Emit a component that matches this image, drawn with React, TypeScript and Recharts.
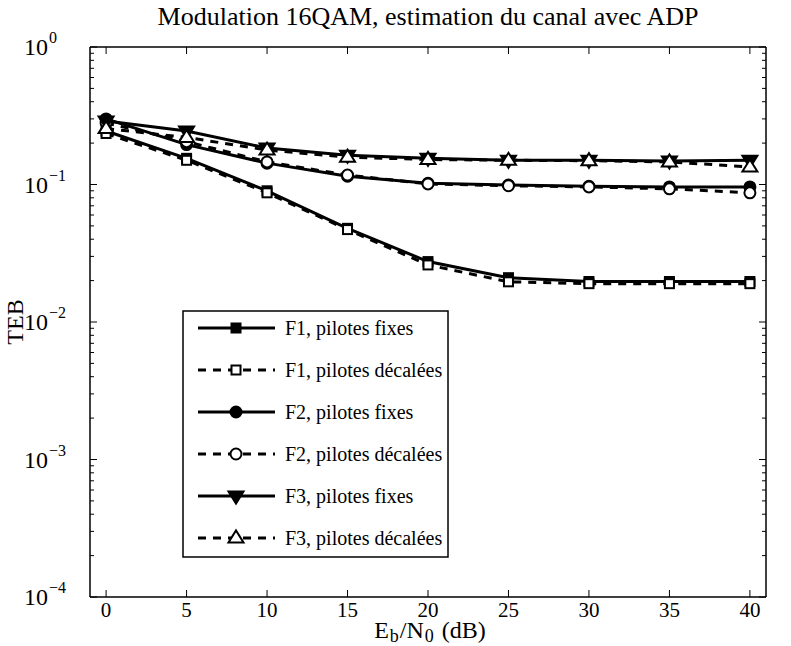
import React from "react";
import { LineChart, Line, XAxis, YAxis } from "recharts";

const snr = [0, 5, 10, 15, 20, 25, 30, 35, 40];
const f1Fixes = [0.245, 0.155, 0.09, 0.048, 0.0275, 0.021, 0.0197, 0.0197, 0.0197];
const f1Decalees = [0.235, 0.15, 0.087, 0.047, 0.026, 0.0196, 0.019, 0.019, 0.019];
const f2Fixes = [0.3, 0.195, 0.143, 0.115, 0.102, 0.099, 0.097, 0.096, 0.096];
const f2Decalees = [0.28, 0.205, 0.146, 0.117, 0.101, 0.098, 0.096, 0.093, 0.087];
const f3Fixes = [0.29, 0.245, 0.184, 0.163, 0.155, 0.15, 0.15, 0.148, 0.15];
const f3Decalees = [0.255, 0.22, 0.178, 0.158, 0.152, 0.15, 0.149, 0.146, 0.134];

const xTicks = [0, 5, 10, 15, 20, 25, 30, 35, 40];
const yMajor = [1e-4, 1e-3, 1e-2, 1e-1, 1];
const yExp = ["−4", "−3", "−2", "−1", "0"];
const seriesNames = [
  "F1, pilotes fixes",
  "F1, pilotes décalées",
  "F2, pilotes fixes",
  "F2, pilotes décalées",
  "F3, pilotes fixes",
  "F3, pilotes décalées",
];

const yMinor: number[] = [];
for (let d = -4; d < 0; d++) {
  for (let m = 2; m <= 9; m++) yMinor.push(m * Math.pow(10, d));
}
const yAllTicks = [...yMajor, ...yMinor].sort((a, b) => a - b);

const data = snr.map((x, i) => ({
  x,
  a: f1Fixes[i],
  b: f1Decalees[i],
  c: f2Fixes[i],
  d: f2Decalees[i],
  e: f3Fixes[i],
  f: f3Decalees[i],
}));

const FONT = "'Liberation Serif', 'DejaVu Serif', serif";
const W = 791;
const H = 646;
const M = { top: 46, right: 24, bottom: 48, left: 89 };

const isMajor = (v: number) => yMajor.some((m) => Math.abs(m - v) / m < 1e-6);

const SquareDot = (props: any) => {
  const { cx, cy, fill } = props;
  if (cx == null || cy == null) return null;
  return <rect x={cx - 4.5} y={cy - 4.5} width={9} height={9} fill={fill} stroke="#000" strokeWidth={2} />;
};
const CircleDot = (props: any) => {
  const { cx, cy, fill } = props;
  if (cx == null || cy == null) return null;
  return <circle cx={cx} cy={cy} r={5.5} fill={fill} stroke="#000" strokeWidth={2} />;
};
const TriDownDot = (props: any) => {
  const { cx, cy, fill } = props;
  if (cx == null || cy == null) return null;
  const s = 7.5;
  return (
    <polygon
      points={`${cx - s},${cy - s * 0.6} ${cx + s},${cy - s * 0.6} ${cx},${cy + s}`}
      fill={fill}
      stroke="#000"
      strokeWidth={2}
    />
  );
};
const TriUpDot = (props: any) => {
  const { cx, cy, fill } = props;
  if (cx == null || cy == null) return null;
  const s = 7.5;
  return (
    <polygon
      points={`${cx - s},${cy + s * 0.6} ${cx + s},${cy + s * 0.6} ${cx},${cy - s}`}
      fill={fill}
      stroke="#000"
      strokeWidth={2}
    />
  );
};

const BottomTick = (props: any) => {
  const { x, y, payload } = props;
  return (
    <g>
      <line x1={x} y1={y} x2={x} y2={y - 7} stroke="#000" strokeWidth={1} />
      <text x={x} y={y + 20} textAnchor="middle" fontFamily={FONT} fontSize={21} fill="#000">
        {payload.value}
      </text>
    </g>
  );
};
const TopTick = (props: any) => {
  const { x, y } = props;
  return <line x1={x} y1={y} x2={x} y2={y + 7} stroke="#000" strokeWidth={1} />;
};
const LeftTick = (props: any) => {
  const { x, y, payload } = props;
  const major = isMajor(payload.value);
  const idx = yMajor.findIndex((m) => Math.abs(m - payload.value) / m < 1e-6);
  return (
    <g>
      <line x1={x} y1={y} x2={x + (major ? 7 : 4)} y2={y} stroke="#000" strokeWidth={1} />
      {major && (
        <text x={x - 42} y={y + 8} textAnchor="end" fontFamily={FONT} fontSize={24} fill="#000">
          10
        </text>
      )}
      {major && (
        <text x={x - 41} y={y - 4} textAnchor="start" fontFamily={FONT} fontSize={16} fill="#000">
          {yExp[idx]}
        </text>
      )}
    </g>
  );
};
const RightTick = (props: any) => {
  const { x, y, payload } = props;
  const major = isMajor(payload.value);
  return <line x1={x} y1={y} x2={x - (major ? 7 : 4)} y2={y} stroke="#000" strokeWidth={1} />;
};

const keys = ["a", "b", "c", "d", "e", "f"];
const dashes = ["", "8 7", "", "8 7", "", "8 7"];
const dots = [SquareDot, SquareDot, CircleDot, CircleDot, TriDownDot, TriUpDot];
const fills = ["#000", "#fff", "#000", "#fff", "#000", "#fff"];

const LegendBox = () => {
  const lx = 183;
  const ly = 311;
  const w = 265;
  const rowH = 42;
  const h = 246;
  return (
    <g>
      <rect x={lx} y={ly} width={w} height={h} fill="#fff" stroke="#000" strokeWidth={1.5} />
      {seriesNames.map((name, i) => {
        const cy = ly + 17 + i * rowH;
        const Dot = dots[i];
        return (
          <g key={name}>
            <line x1={lx + 15} y1={cy} x2={lx + 92} y2={cy} stroke="#000" strokeWidth={3} strokeDasharray={dashes[i] || undefined} />
            <Dot cx={lx + 53} cy={cy} fill={fills[i]} />
            <text x={lx + 102} y={cy + 7} fontFamily={FONT} fontSize={20} fill="#000">
              {name}
            </text>
          </g>
        );
      })}
    </g>
  );
};

export default function App() {
  return (
    <div style={{ position: "absolute", left: 0, top: 0, width: W, height: H, background: "#fff", overflow: "hidden" }}>
      <style>{`html,body{margin:0;padding:0;overflow:hidden;}`}</style>
      <LineChart width={W} height={H} data={data} margin={M}>
        <XAxis
          xAxisId="b"
          dataKey="x"
          type="number"
          domain={[-1, 41]}
          ticks={xTicks}
          interval={0}
          height={1}
          tickSize={0}
          tickMargin={0}
          tick={<BottomTick />}
          axisLine={{ stroke: "#000", strokeWidth: 1.5 }}
          tickLine={false}
          allowDataOverflow
        />
        <XAxis
          xAxisId="t"
          orientation="top"
          dataKey="x"
          type="number"
          domain={[-1, 41]}
          ticks={xTicks}
          interval={0}
          height={1}
          tickSize={0}
          tickMargin={0}
          tick={<TopTick />}
          axisLine={{ stroke: "#000", strokeWidth: 1.5 }}
          tickLine={false}
          allowDataOverflow
        />
        <YAxis
          yAxisId="l"
          scale="log"
          type="number"
          domain={[1e-4, 1]}
          ticks={yAllTicks}
          interval={0}
          tickSize={0}
          tickMargin={0}
          tick={<LeftTick />}
          axisLine={{ stroke: "#000", strokeWidth: 1.5 }}
          tickLine={false}
          allowDataOverflow
          width={1}
        />
        <YAxis
          yAxisId="r"
          orientation="right"
          scale="log"
          type="number"
          domain={[1e-4, 1]}
          ticks={yAllTicks}
          interval={0}
          tickSize={0}
          tickMargin={0}
          tick={<RightTick />}
          axisLine={{ stroke: "#000", strokeWidth: 1.5 }}
          tickLine={false}
          allowDataOverflow
          width={1}
        />
        {keys.map((k, i) => {
          const Dot = dots[i];
          return (
            <Line
              key={k}
              xAxisId="b"
              yAxisId="l"
              dataKey={k}
              name={seriesNames[i]}
              type="linear"
              stroke="#000"
              strokeWidth={3}
              strokeDasharray={dashes[i] || undefined}
              dot={(p: any) => <Dot key={`${k}-${p.index}`} {...p} fill={fills[i]} />}
              isAnimationActive={false}
            />
          );
        })}
        {keys.map((k, i) => (
          <Line
            key={`t${k}`}
            xAxisId="t"
            yAxisId="r"
            dataKey={k}
            stroke="none"
            dot={false}
            legendType="none"
            isAnimationActive={false}
          />
        ))}
        <LegendBox />
        <text x={428} y={25} textAnchor="middle" fontFamily={FONT} fontSize={26} fill="#000">
          Modulation 16QAM, estimation du canal avec ADP
        </text>
        <text
          x={23}
          y={322}
          textAnchor="middle"
          fontFamily={FONT}
          fontSize={24}
          fill="#000"
          transform="rotate(-90 23 322)"
        >
          TEB
        </text>
        <text x={430} y={638} textAnchor="middle" fontFamily={FONT} fontSize={24} fill="#000">
          E<tspan dy={4} dx={1} fontSize={18}>b</tspan>
          <tspan dy={-4} dx={1}>/N</tspan>
          <tspan dy={4} dx={1} fontSize={18}>0</tspan>
          <tspan dy={-4} dx={2}> (dB)</tspan>
        </text>
      </LineChart>
    </div>
  );
}
